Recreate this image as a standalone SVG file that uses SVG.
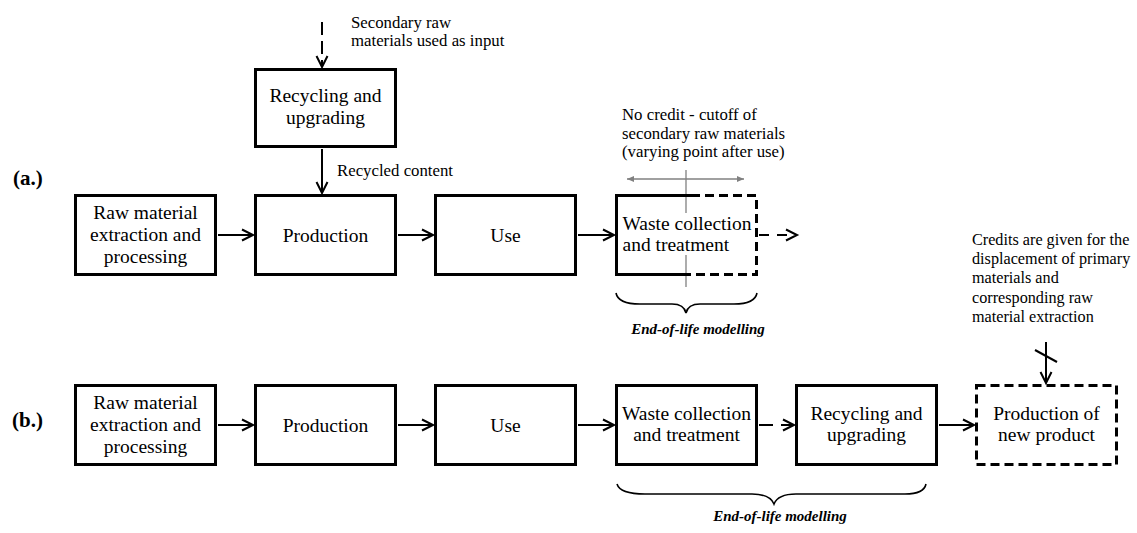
<svg xmlns="http://www.w3.org/2000/svg" width="1137" height="533" viewBox="0 0 1137 533" font-family="'Liberation Serif', 'Times New Roman', Times, serif">
<style>
.box{fill:#fff;stroke:#000;stroke-width:3;stroke-linejoin:miter}
.dbox{fill:none;stroke:#000;stroke-width:3;stroke-dasharray:9,5}
.sbox{fill:none;stroke:#000;stroke-width:3}
.t{font-size:19.5px;fill:#000}
.c{text-anchor:middle}
.s{font-size:16.8px;fill:#000}
.cr{font-size:16.2px;fill:#000}
.lab{font-size:21px;font-weight:bold;fill:#000}
.eol{font-size:15px;font-weight:bold;font-style:italic;fill:#000;text-anchor:middle}
.con{fill:none;stroke:#000;stroke-width:2}
.dash{stroke-dasharray:13,6}
.gray{fill:none;stroke:#808080;stroke-width:1.3}
.brace{fill:none;stroke:#000;stroke-width:1.6}
</style>
<defs>
<marker id="arr" markerUnits="userSpaceOnUse" markerWidth="16" markerHeight="16" viewBox="0 0 16 16" refX="13" refY="8" orient="auto">
<path d="M2,2.5 L13,8 L2,13.5" fill="none" stroke="#000" stroke-width="2" stroke-dasharray="none"/>
</marker>
<marker id="garr" markerUnits="userSpaceOnUse" markerWidth="10" markerHeight="10" viewBox="0 0 10 10" refX="8" refY="5" orient="auto-start-reverse">
<path d="M1,2 L8,5 L1,8 Z" fill="#808080"/>
</marker>
</defs>

<!-- labels -->
<text class="lab" x="13" y="185">(a.)</text>
<text class="lab" x="12" y="427">(b.)</text>

<!-- connectors -->
<g id="connectors">
<line class="con dash" x1="322" y1="22" x2="322" y2="67" marker-end="url(#arr)"/>
<line class="con" x1="322" y1="149" x2="322" y2="193" marker-end="url(#arr)"/>
<line class="con" x1="218" y1="235" x2="253" y2="235" marker-end="url(#arr)"/>
<line class="con" x1="398" y1="235" x2="433" y2="235" marker-end="url(#arr)"/>
<line class="con" x1="578" y1="235" x2="614" y2="235" marker-end="url(#arr)"/>
<line class="con" x1="759" y1="235" x2="797" y2="235" stroke-dasharray="10,8" marker-end="url(#arr)"/>
<line class="con" x1="218" y1="425" x2="253" y2="425" marker-end="url(#arr)"/>
<line class="con" x1="398" y1="425" x2="433" y2="425" marker-end="url(#arr)"/>
<line class="con" x1="578" y1="425" x2="614" y2="425" marker-end="url(#arr)"/>
<line class="con" x1="759" y1="425" x2="794" y2="425" stroke-dasharray="14,8" marker-end="url(#arr)"/>
<line class="con" x1="939" y1="425" x2="974" y2="425" marker-end="url(#arr)"/>
<line class="con" x1="1046" y1="342" x2="1046" y2="383" marker-end="url(#arr)"/>
<line class="con" x1="1035" y1="350" x2="1057" y2="362"/>
<!-- cutoff indicator -->
<line class="gray" x1="627" y1="179" x2="744" y2="179" marker-start="url(#garr)" marker-end="url(#garr)"/>
<line class="gray" x1="686" y1="170" x2="686" y2="213"/>
<line class="gray" x1="686" y1="255" x2="686" y2="287"/>
</g>

<!-- top recycling -->
<g id="recycling-a">
<rect class="box" x="255.5" y="69.5" width="140" height="77"/>
<text class="t c" x="325.5" y="102">Recycling and</text>
<text class="t c" x="325.5" y="124">upgrading</text>
</g>
<text class="s" x="351" y="28">Secondary raw</text>
<text class="s" x="351" y="46">materials used as input</text>
<text class="s" x="337" y="176">Recycled content</text>

<!-- row a -->
<g id="raw-a">
<rect class="box" x="75.5" y="195.5" width="140" height="79"/>
<text class="t c" x="145.5" y="219">Raw material</text>
<text class="t c" x="145.5" y="241">extraction and</text>
<text class="t c" x="145.5" y="262.5">processing</text>
</g>
<g id="production-a">
<rect class="box" x="255.5" y="195.5" width="140" height="79"/>
<text class="t c" x="325.5" y="242">Production</text>
</g>
<g id="use-a">
<rect class="box" x="435.5" y="195.5" width="140" height="79"/>
<text class="t c" x="505.5" y="242">Use</text>
</g>
<g id="waste-a">
<path class="sbox" d="M691,195.5 H616.5 V274.5 H689"/>
<path class="dbox" d="M691,195.5 H756.5 V274.5 H689"/>
<text class="t" x="622.5" y="229.5">Waste collection</text>
<text class="t" x="622.5" y="250.5">and treatment</text>
</g>
<text class="s" x="622" y="120">No credit - cutoff of</text>
<text class="s" x="622" y="138.5">secondary raw materials</text>
<text class="s" x="622" y="157">(varying point after use)</text>

<path class="brace" d="M616,293 Q618,304 640,304 L672,304 Q684,304 686,313 Q688,304 700,304 L734,304 Q755,304 757,293"/>
<text class="eol" x="698" y="334">End-of-life modelling</text>

<!-- row b -->
<g id="raw-b">
<rect class="box" x="75.5" y="385.5" width="140" height="79"/>
<text class="t c" x="145.5" y="409">Raw material</text>
<text class="t c" x="145.5" y="431">extraction and</text>
<text class="t c" x="145.5" y="452.5">processing</text>
</g>
<g id="production-b">
<rect class="box" x="255.5" y="385.5" width="140" height="79"/>
<text class="t c" x="325.5" y="432">Production</text>
</g>
<g id="use-b">
<rect class="box" x="435.5" y="385.5" width="140" height="79"/>
<text class="t c" x="505.5" y="432">Use</text>
</g>
<g id="waste-b">
<rect class="box" x="616.5" y="385.5" width="140" height="79"/>
<text class="t c" x="686.5" y="420">Waste collection</text>
<text class="t c" x="686.5" y="441">and treatment</text>
</g>
<g id="recycling-b">
<rect class="box" x="796.5" y="385.5" width="140" height="79"/>
<text class="t c" x="866.5" y="420">Recycling and</text>
<text class="t c" x="866.5" y="441">upgrading</text>
</g>
<g id="new-product">
<rect class="dbox" x="976.5" y="385.5" width="140" height="79"/>
<text class="t c" x="1046.5" y="420">Production of</text>
<text class="t c" x="1046.5" y="441">new product</text>
</g>
<text class="cr" x="972" y="244.5">Credits are given for the</text>
<text class="cr" x="972" y="264">displacement of primary</text>
<text class="cr" x="972" y="283.3">materials and</text>
<text class="cr" x="972" y="302.7">corresponding raw</text>
<text class="cr" x="972" y="322">material extraction</text>

<path class="brace" d="M617,484 Q620,494 645,494 L752,494 Q770,494 774,504 Q778,494 796,494 L905,494 Q924,494 926,484"/>
<text class="eol" x="780" y="521">End-of-life modelling</text>
</svg>
